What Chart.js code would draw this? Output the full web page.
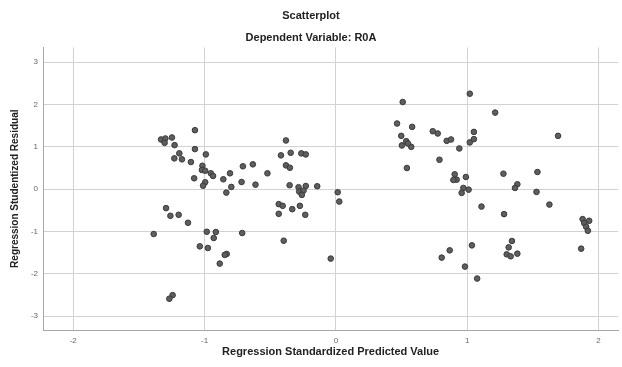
<!DOCTYPE html>
<html>
<head>
<meta charset="utf-8">
<script src="https://cdn.jsdelivr.net/npm/chart.js@4/dist/chart.umd.min.js"></script>
<style>
  html, body { margin: 0; padding: 0; background: #fff; }
  #wrap { width: 622px; height: 367px; }
</style>
</head>
<body>
<div id="wrap"><canvas id="scatter"></canvas></div>
<script>
// regression standardized predicted value (x) / studentized residual (y)
const predicted = [
  -1.073, -1.331, -1.298, -1.248, -1.304, -1.228, -1.073, -0.990, -1.192, -1.172,
  -1.230, -1.104, -1.016, -1.020, -0.995, -0.952, -0.935, -0.806, -0.857, -1.079,
  -0.995, -1.011, -0.796, -0.834, -1.293, -1.260, -1.197, -1.126, -1.387, -0.983,
  -0.914, -0.930, -1.036, -0.975, -0.831, -0.846, -0.884, -1.243, -1.268,
  -0.380, -0.418, -0.344, -0.263, -0.229, -0.708, -0.632, -0.521, -0.380, -0.350,
  -0.718, -0.612, -0.352, -0.284, -0.229, -0.279, -0.246, -0.259, -0.142, 0.014,
  0.026, -0.435, -0.405, -0.435, -0.332, -0.274, -0.233, -0.713, -0.397, -0.039,
  1.020, 0.509, 1.213, 0.466, 0.581, 0.738, 0.776, 1.051, 0.498, 0.536,
  0.503, 0.574, 0.549, 0.844, 0.877, 0.940, 1.020, 1.051, 1.692, 0.789,
  0.541, 1.276, 1.535, 0.905, 0.990, 0.920, 0.895, 1.382, 1.364, 0.971,
  1.011, 0.958, 1.528, 1.626, 1.109, 1.281, 1.879, 1.929, 1.891, 1.906,
  1.919, 1.341, 1.036, 1.316, 0.867, 1.301, 1.331, 1.382, 1.868, 0.806,
  0.983, 1.076
];
const residual = [
  1.393, 1.174, 1.198, 1.221, 1.094, 1.040, 0.946, 0.821, 0.845, 0.704,
  0.727, 0.640, 0.553, 0.452, 0.435, 0.374, 0.311, 0.374, 0.233, 0.256,
  0.162, 0.082, 0.052, -0.082, -0.449, -0.631, -0.607, -0.795, -1.061, -1.007,
  -1.014, -1.155, -1.353, -1.391, -1.532, -1.555, -1.760, -2.506, -2.591,
  1.151, 0.798, 0.859, 0.845, 0.821, 0.539, 0.586, 0.374, 0.562, 0.506,
  0.169, 0.106, 0.092, 0.045, 0.075, -0.059, -0.035, -0.136, 0.068, -0.073,
  -0.294, -0.355, -0.395, -0.584, -0.473, -0.395, -0.607, -1.038, -1.219, -1.642,
  2.256, 2.059, 1.809, 1.551, 1.471, 1.369, 1.315, 1.353, 1.259, 1.134,
  1.033, 1.000, 1.080, 1.141, 1.174, 0.962, 1.104, 1.181, 1.259, 0.694,
  0.499, 0.365, 0.405, 0.351, 0.287, 0.224, 0.216, 0.115, 0.028, 0.028,
  -0.012, -0.089, -0.066, -0.365, -0.412, -0.591, -0.708, -0.748, -0.802, -0.889,
  -0.984, -1.226, -1.329, -1.376, -1.447, -1.541, -1.588, -1.525, -1.407, -1.619,
  -1.831, -2.113
];
const xTicks = [-2, -1, 0, 1, 2];
const yTicks = [-3, -2, -1, 0, 1, 2, 3];

const points = predicted.map((x, i) => ({ x: x, y: residual[i] }));
const fontFamily = '"Liberation Sans", Arial, sans-serif';

const ctx = document.getElementById('scatter').getContext('2d');
new Chart(ctx, {
    type: 'scatter',
    data: {
        datasets: [{
            data: points,
            pointRadius: 2.8,
            pointHoverRadius: 2.8,
            backgroundColor: '#5e5e5e',
            borderColor: '#3a3a3a',
            borderWidth: 1
        }]
    },
    options: {
        responsive: true,
        maintainAspectRatio: false,
        animation: false,
        layout: { padding: 0 },
        plugins: {
            legend: { display: false },
            tooltip: { enabled: false },
            title: {
                display: true,
                text: 'Scatterplot',
                color: '#222',
                font: { family: fontFamily, size: 11, weight: 'bold' },
                padding: { top: 9, bottom: 9 }
            },
            subtitle: {
                display: true,
                text: 'Dependent Variable: R0A',
                color: '#222',
                font: { family: fontFamily, size: 11, weight: 'bold' },
                padding: { top: 0, bottom: 3 }
            }
        },
        scales: {
            x: {
                type: 'linear',
                min: -2.23,
                max: 2.15,
                afterFit: (scale) => { scale.height = 37; },
                afterBuildTicks: (scale) => { scale.ticks = xTicks.map(v => ({ value: v })); },
                ticks: {
                    color: '#666',
                    font: { family: fontFamily, size: 8 },
                    padding: 6
                },
                grid: { color: '#d2d2d2', drawTicks: false },
                border: { color: '#a8a8a8' },
                title: {
                    display: true,
                    text: 'Regression Standardized Predicted Value',
                    color: '#222',
                    font: { family: fontFamily, size: 11, weight: 'bold' },
                    padding: { top: 0, bottom: 8 }
                }
            },
            y: {
                type: 'linear',
                min: -3.33,
                max: 3.35,
                afterFit: (scale) => { scale.width = 43; },
                afterBuildTicks: (scale) => { scale.ticks = yTicks.map(v => ({ value: v })); },
                ticks: {
                    color: '#666',
                    font: { family: fontFamily, size: 8 },
                    padding: 5
                },
                grid: { color: '#d2d2d2', drawTicks: false },
                border: { color: '#a8a8a8' },
                title: {
                    display: true,
                    text: 'Regression Studentized Residual',
                    color: '#222',
                    font: { family: fontFamily, size: 10, weight: 'bold' },
                    padding: { top: 9, bottom: 0 }
                }
            }
        }
    }
});
</script>
</body>
</html>
